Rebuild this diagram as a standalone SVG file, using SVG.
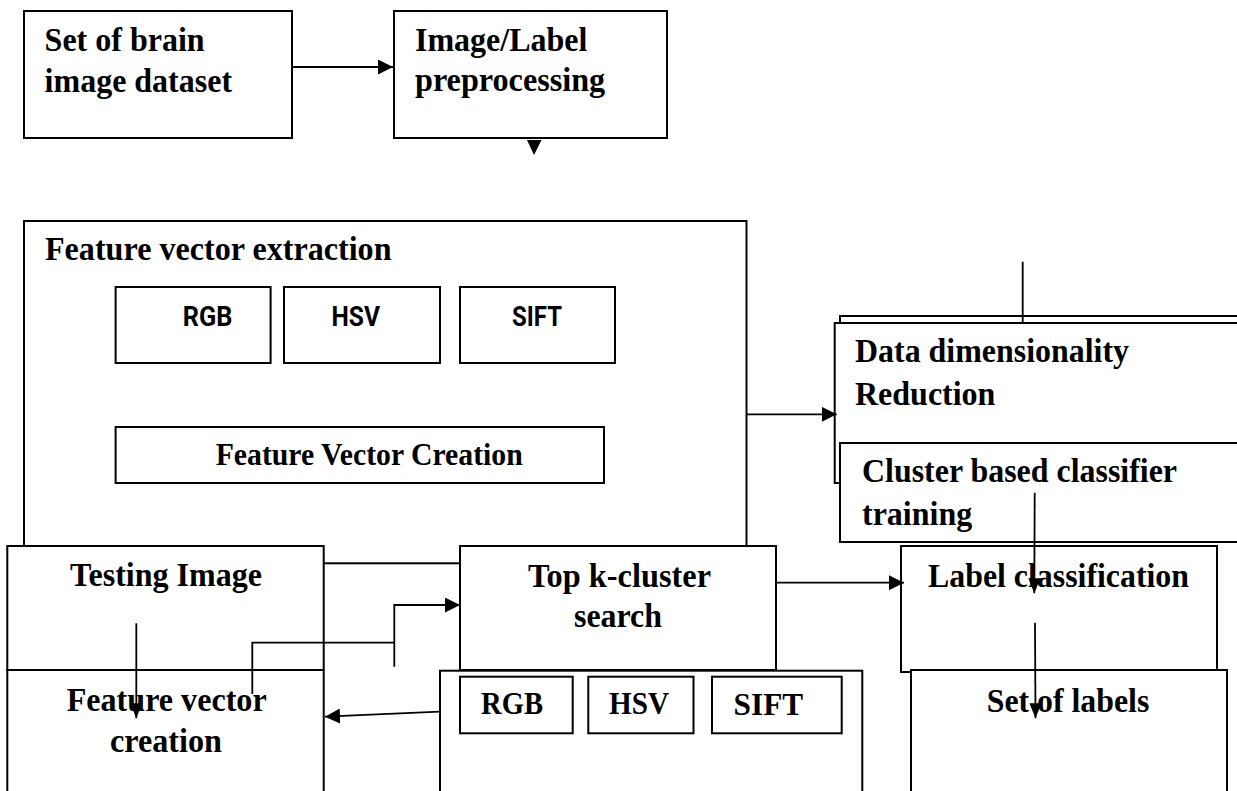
<svg xmlns="http://www.w3.org/2000/svg" width="1237" height="791" viewBox="0 0 1237 791">
<style>
 .box{fill:#fff;stroke:#000;stroke-width:2}
 .t{font-family:"Liberation Serif","Times New Roman",serif;font-weight:bold;font-size:34px;fill:#000}
 .s{font-family:Roboto,"Liberation Sans",sans-serif;font-weight:bold;font-size:28px;fill:#000}
 .ln{fill:none;stroke:#000;stroke-width:1.8}
</style>
<defs>
 <marker id="ah" viewBox="0 0 15 15" refX="15" refY="7.5" markerWidth="15" markerHeight="15" markerUnits="userSpaceOnUse" orient="auto"><path d="M0,0 L15,7.5 L0,15 z" fill="#000"/></marker>
 <marker id="ahs" viewBox="0 0 15 12" refX="15" refY="6" markerWidth="15" markerHeight="12" markerUnits="userSpaceOnUse" orient="auto"><path d="M0,0 L15,6 L0,12 z" fill="#000"/></marker>
</defs>
<rect width="1237" height="791" fill="#fff"/>
<g id="dataset">
 <rect class="box" x="24" y="11" width="268" height="127"/>
 <text class="t" x="44.6" y="51" textLength="160" lengthAdjust="spacingAndGlyphs">Set of brain</text>
 <text class="t" x="44.6" y="92" textLength="187.5" lengthAdjust="spacingAndGlyphs">image dataset</text>
</g>
<g id="preprocessing">
 <rect class="box" x="394" y="11" width="273" height="127"/>
 <text class="t" x="415" y="51" textLength="172.4" lengthAdjust="spacingAndGlyphs">Image/Label</text>
 <text class="t" x="415" y="91" textLength="190.2" lengthAdjust="spacingAndGlyphs">preprocessing</text>
</g>
<g id="feature-extraction">
 <rect class="box" x="24" y="221" width="722.5" height="342.3"/>
 <text class="t" x="45" y="260" textLength="346.5" lengthAdjust="spacingAndGlyphs">Feature vector extraction</text>
 <rect class="box" x="115.6" y="287" width="155" height="76"/>
 <rect class="box" x="284" y="287" width="156" height="76"/>
 <rect class="box" x="460" y="287" width="155" height="76"/>
 <text class="s" x="182.7" y="326" textLength="49.6" lengthAdjust="spacingAndGlyphs">RGB</text>
 <text class="s" x="331.5" y="326" textLength="48.5" lengthAdjust="spacingAndGlyphs">HSV</text>
 <text class="s" x="512" y="326" textLength="50" lengthAdjust="spacingAndGlyphs">SIFT</text>
 <rect class="box" x="115.6" y="427" width="488.4" height="56"/>
 <text class="t" x="215.7" y="465" style="font-size:31px" textLength="307" lengthAdjust="spacingAndGlyphs">Feature Vector Creation</text>
</g>
<g id="dim-reduction">
 <rect class="box" x="840" y="316" width="420" height="167"/>
 <rect class="box" x="834.7" y="323" width="425" height="160"/>
 <text class="t" x="855" y="362" textLength="274" lengthAdjust="spacingAndGlyphs">Data dimensionality</text>
 <text class="t" x="855" y="405" textLength="140.4" lengthAdjust="spacingAndGlyphs">Reduction</text>
</g>
<g id="classifier-training">
 <rect class="box" x="840" y="443" width="420" height="99"/>
 <text class="t" x="862" y="482" textLength="315" lengthAdjust="spacingAndGlyphs">Cluster based classifier</text>
 <text class="t" x="862" y="525" textLength="110.2" lengthAdjust="spacingAndGlyphs">training</text>
</g>
<g id="testing-image">
 <rect class="box" x="7.3" y="546" width="316.4" height="124"/>
 <text class="t" x="70" y="586" textLength="192" lengthAdjust="spacingAndGlyphs">Testing Image</text>
</g>
<g id="fv-creation">
 <rect class="box" x="7.3" y="670" width="316.4" height="140"/>
 <text class="t" x="66.7" y="711" textLength="200" lengthAdjust="spacingAndGlyphs">Feature vector</text>
 <text class="t" x="110" y="752" textLength="112" lengthAdjust="spacingAndGlyphs">creation</text>
</g>
<g id="topk-search">
 <rect class="box" x="460" y="546" width="316" height="124"/>
 <text class="t" x="528" y="587" textLength="183" lengthAdjust="spacingAndGlyphs">Top k-cluster</text>
 <text class="t" x="574" y="627" textLength="88" lengthAdjust="spacingAndGlyphs">search</text>
</g>
<g id="features-test">
 <rect class="box" x="440" y="670.7" width="422.3" height="140"/>
 <rect class="box" x="460" y="676.7" width="112.7" height="56.6"/>
 <rect class="box" x="588.3" y="676.7" width="105.2" height="56.6"/>
 <rect class="box" x="712" y="676.7" width="129.7" height="56.6"/>
 <text class="t" x="481" y="714.3" style="font-size:31px" textLength="62" lengthAdjust="spacingAndGlyphs">RGB</text>
 <text class="t" x="609" y="714.3" style="font-size:31px" textLength="60" lengthAdjust="spacingAndGlyphs">HSV</text>
 <text class="t" x="733.6" y="715" style="font-size:32px" textLength="69.5" lengthAdjust="spacingAndGlyphs">SIFT</text>
</g>
<g id="label-classification">
 <rect class="box" x="901" y="546" width="316" height="126"/>
 <text class="t" x="928" y="587" textLength="261" lengthAdjust="spacingAndGlyphs">Label classification</text>
</g>
<g id="set-of-labels">
 <rect class="box" x="911" y="670" width="316" height="140"/>
 <text class="t" x="986.7" y="711.7" textLength="162.6" lengthAdjust="spacingAndGlyphs">Set of labels</text>
</g>
<g id="connectors">
 <path class="ln" d="M292,67 H393" marker-end="url(#ah)"/>
 <polygon points="527,140 541.5,140 534,155" fill="#000"/>
 <path class="ln" d="M746.5,414.3 H836.7" marker-end="url(#ah)"/>
 <path class="ln" d="M1022.7,261.7 V323"/>
 <path class="ln" d="M1034.7,492.7 L1034.3,593.3" marker-end="url(#ahs)"/>
 <path class="ln" d="M1035,622.7 L1035.5,718.3" marker-end="url(#ahs)"/>
 <path class="ln" d="M776,582.7 H904" marker-end="url(#ah)"/>
 <path class="ln" d="M136.3,623.3 V718.3" marker-end="url(#ahs)"/>
 <path class="ln" d="M252.3,694 V642.7 H394.3"/>
 <path class="ln" d="M394.3,666.7 V605 H460" marker-end="url(#ah)"/>
 <path class="ln" d="M440,711.7 L325,716.7" marker-end="url(#ah)"/>
</g>
</svg>
